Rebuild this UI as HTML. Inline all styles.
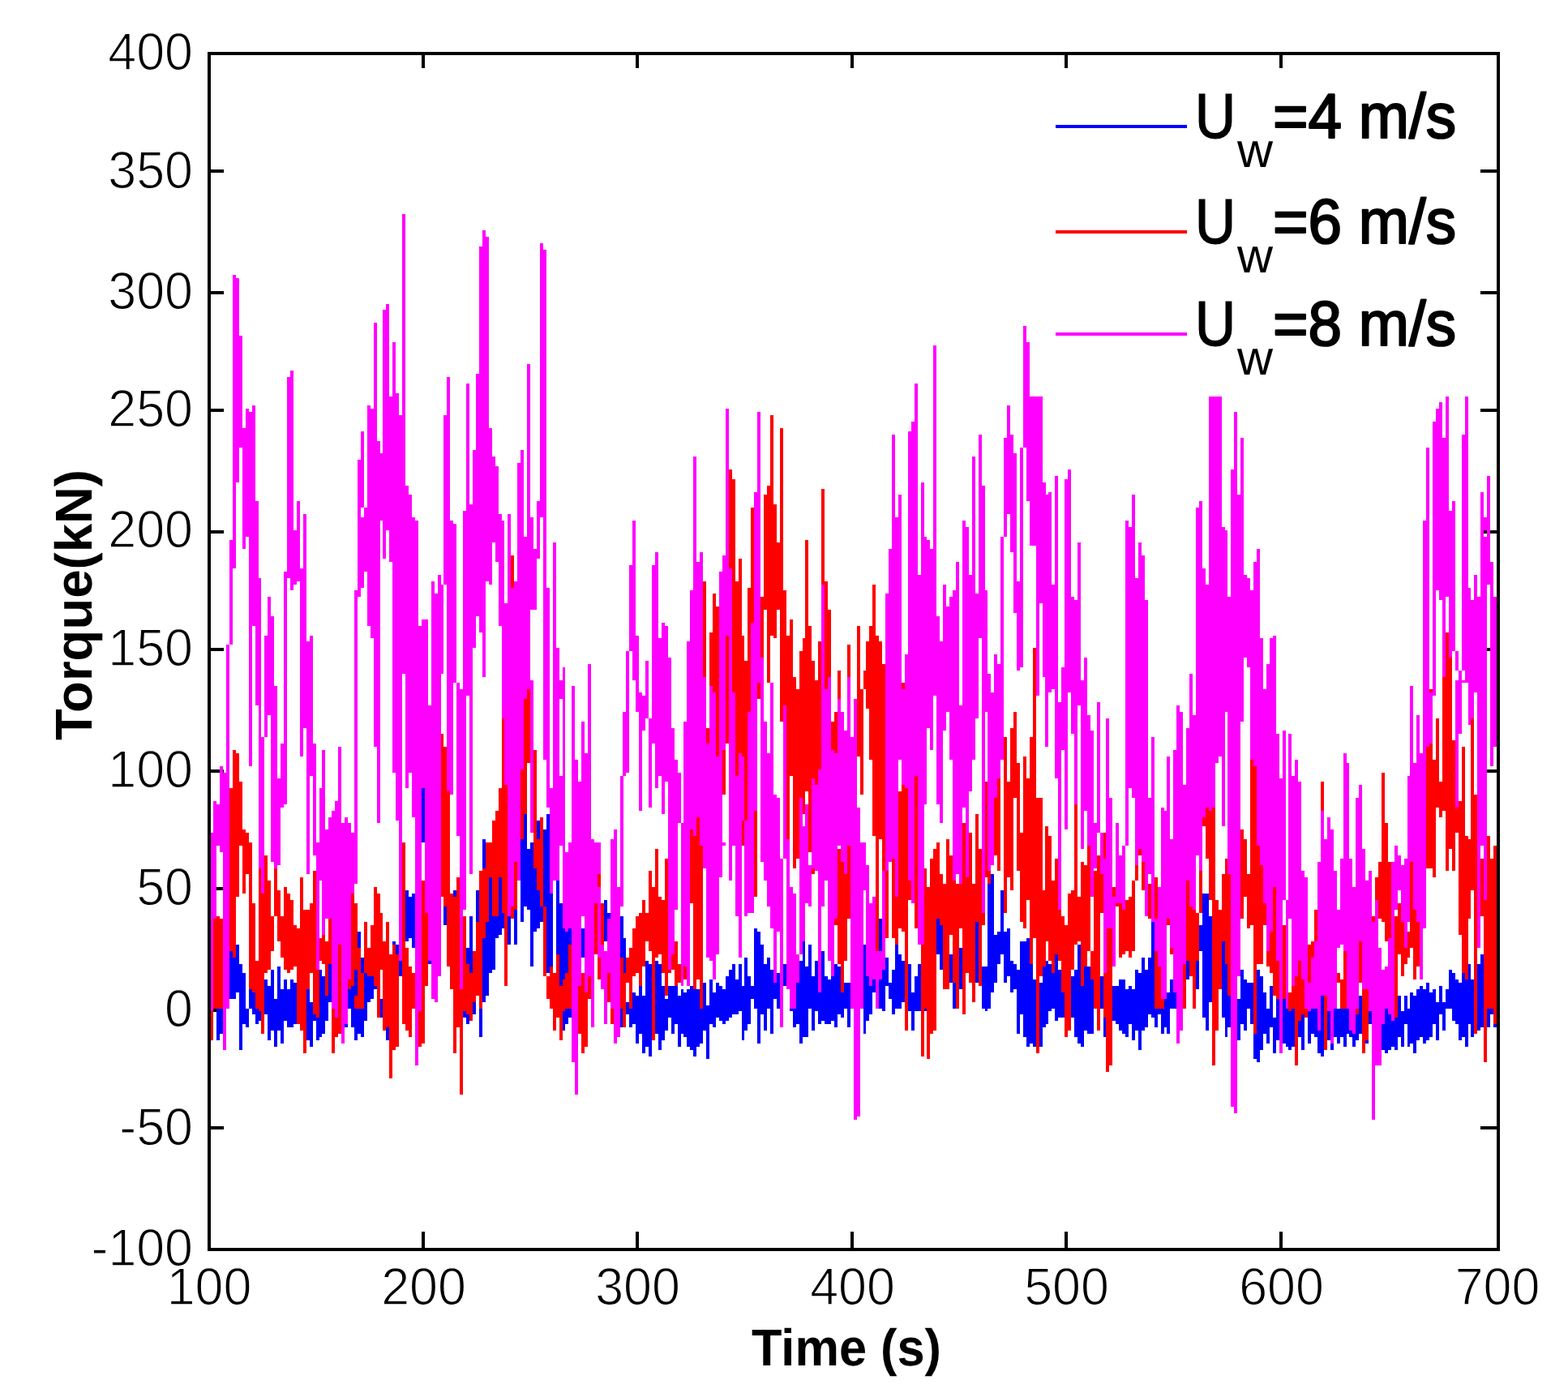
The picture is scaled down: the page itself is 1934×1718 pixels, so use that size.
<!DOCTYPE html>
<html lang="en"><head><meta charset="utf-8"><title>Torque vs Time</title>
<style>html,body{margin:0;padding:0;background:#fff;}body{width:1934px;height:1718px;overflow:hidden;}svg{display:block;}</style>
</head><body>
<svg xmlns="http://www.w3.org/2000/svg" width="1934" height="1718" viewBox="0 0 1934 1718" shape-rendering="crispEdges">
<rect x="0" y="0" width="1934" height="1718" fill="#fff"/>
<g fill="#000">
<rect x="520" y="1519.0" width="4" height="20"/>
<rect x="520" y="68.0" width="4" height="16"/>
<rect x="784" y="1519.0" width="4" height="20"/>
<rect x="784" y="68.0" width="4" height="16"/>
<rect x="1049" y="1519.0" width="4" height="20"/>
<rect x="1049" y="68.0" width="4" height="16"/>
<rect x="1313" y="1519.0" width="4" height="20"/>
<rect x="1313" y="68.0" width="4" height="16"/>
<rect x="1578" y="1519.0" width="4" height="20"/>
<rect x="1578" y="68.0" width="4" height="16"/>
<rect x="259.5" y="1389.0" width="16" height="4"/>
<rect x="1826.0" y="1389.0" width="20" height="4"/>
<rect x="259.5" y="1243.5" width="16" height="4"/>
<rect x="1826.0" y="1243.5" width="20" height="4"/>
<rect x="259.5" y="1094.1" width="16" height="4"/>
<rect x="1826.0" y="1094.1" width="20" height="4"/>
<rect x="259.5" y="948.6" width="16" height="4"/>
<rect x="1826.0" y="948.6" width="20" height="4"/>
<rect x="259.5" y="799.2" width="16" height="4"/>
<rect x="1826.0" y="799.2" width="20" height="4"/>
<rect x="259.5" y="653.7" width="16" height="4"/>
<rect x="1826.0" y="653.7" width="20" height="4"/>
<rect x="259.5" y="504.3" width="16" height="4"/>
<rect x="1826.0" y="504.3" width="20" height="4"/>
<rect x="259.5" y="358.8" width="16" height="4"/>
<rect x="1826.0" y="358.8" width="20" height="4"/>
<rect x="259.5" y="209.4" width="16" height="4"/>
<rect x="1826.0" y="209.4" width="20" height="4"/>
</g>
<path fill="#0000ff" d="M267.22 1239.6h3.96V1282.8h-3.96zM271.17 1243.5h3.96V1275h-3.96zM283.01 1172.7h3.96V1231.7h-3.96zM286.95 1180.6h3.96V1231.7h-3.96zM290.9 1164.9h3.96V1223.8h-3.96zM294.85 1188.5h3.96V1294.6h-3.96zM298.79 1200.2h3.96V1263.2h-3.96zM302.74 1243.5h3.96V1267.1h-3.96zM306.69 1219.9h3.96V1243.5h-3.96zM310.64 1223.8h3.96V1251.4h-3.96zM314.58 1239.6h3.96V1263.2h-3.96zM318.53 1247.4h3.96V1259.2h-3.96zM326.42 1208.1h3.96V1251.4h-3.96zM330.37 1216h3.96V1282.8h-3.96zM334.32 1196.3h3.96V1271h-3.96zM338.26 1231.7h3.96V1290.7h-3.96zM342.21 1192.4h3.96V1271h-3.96zM346.16 1219.9h3.96V1286.8h-3.96zM350.11 1208.1h3.96V1259.2h-3.96zM354.05 1219.9h3.96V1267.1h-3.96zM358 1208.1h3.96V1267.1h-3.96zM361.95 1212h3.96V1263.2h-3.96zM377.74 1219.9h3.96V1282.8h-3.96zM381.68 1235.6h3.96V1290.7h-3.96zM385.63 1251.4h3.96V1259.2h-3.96zM389.58 1255.3h3.96V1282.8h-3.96zM393.52 1196.3h3.96V1278.9h-3.96zM397.47 1204.2h3.96V1275h-3.96zM401.42 1227.8h3.96V1259.2h-3.96zM405.36 1188.5h3.96V1235.6h-3.96zM425.1 1263.2h3.96V1267.15h-3.96zM429.05 1219.9h3.96V1243.5h-3.96zM432.99 1216h3.96V1267.1h-3.96zM436.94 1196.3h3.96V1227.8h-3.96zM436.94 1239.6h3.96V1282.8h-3.96zM440.89 1149.1h3.96V1168.8h-3.96zM440.89 1239.6h3.96V1275h-3.96zM444.83 1180.6h3.96V1200.2h-3.96zM444.83 1239.6h3.96V1278.9h-3.96zM448.78 1200.2h3.96V1259.2h-3.96zM452.73 1204.2h3.96V1235.6h-3.96zM456.68 1204.2h3.96V1231.7h-3.96zM460.62 1216h3.96V1219.9h-3.96zM468.52 1231.7h3.96V1255.3h-3.96zM476.41 1267.1h3.96V1282.8h-3.96zM484.3 1160.9h3.96V1164.9h-3.96zM488.25 1164.9h3.96V1176.7h-3.96zM492.2 1184.5h3.96V1204.2h-3.96zM500.09 1098h3.96V1160.9h-3.96zM504.04 1105.9h3.96V1157h-3.96zM507.99 1101.9h3.96V1168.8h-3.96zM519.83 972.2h3.96V1039h-3.96zM527.72 1184.5h3.96V1188.5h-3.96zM547.46 1117.7h3.96V1141.3h-3.96zM559.3 1098h3.96V1105.9h-3.96zM571.14 1247.4h3.96V1255.3h-3.96zM575.09 1168.8h3.96V1188.5h-3.96zM575.09 1251.4h3.96V1263.2h-3.96zM579.03 1129.5h3.96V1200.2h-3.96zM582.98 1235.6h3.96V1251.4h-3.96zM586.93 1098h3.96V1137.3h-3.96zM590.87 1239.6h3.96V1278.9h-3.96zM594.82 1035.1h3.96V1070.5h-3.96zM594.82 1157h3.96V1235.6h-3.96zM598.77 1137.3h3.96V1227.8h-3.96zM602.71 1082.3h3.96V1200.2h-3.96zM606.66 1129.5h3.96V1196.3h-3.96zM610.61 1129.5h3.96V1157h-3.96zM614.55 1082.3h3.96V1153.1h-3.96zM618.5 1125.5h3.96V1145.2h-3.96zM626.4 1129.5h3.96V1164.9h-3.96zM634.29 1121.6h3.96V1164.9h-3.96zM642.18 1035.1h3.96V1137.3h-3.96zM646.13 1003.6h3.96V1117.7h-3.96zM650.08 1046.9h3.96V1121.6h-3.96zM654.02 1039h3.96V1192.4h-3.96zM657.97 1070.5h3.96V1149.1h-3.96zM661.92 1011.5h3.96V1035.1h-3.96zM661.92 1098h3.96V1145.2h-3.96zM665.87 1117.7h3.96V1137.3h-3.96zM669.81 1023.3h3.96V1117.7h-3.96zM673.76 1003.6h3.96V1200.2h-3.96zM677.71 1101.9h3.96V1192.4h-3.96zM685.6 1086.2h3.96V1176.7h-3.96zM689.55 1113.7h3.96V1216h-3.96zM693.5 1145.2h3.96V1208.1h-3.96zM693.5 1247.4h3.96V1271h-3.96zM697.44 1149.1h3.96V1200.2h-3.96zM697.44 1239.6h3.96V1263.2h-3.96zM701.39 1145.2h3.96V1164.9h-3.96zM701.39 1239.6h3.96V1255.3h-3.96zM717.18 1145.2h3.96V1180.6h-3.96zM744.81 1109.8h3.96V1160.9h-3.96zM748.75 1125.5h3.96V1133.4h-3.96zM764.54 1129.5h3.96V1180.6h-3.96zM764.54 1243.5h3.96V1267.1h-3.96zM768.49 1157h3.96V1200.2h-3.96zM772.43 1235.6h3.96V1251.4h-3.96zM776.38 1243.5h3.96V1267.1h-3.96zM780.33 1223.8h3.96V1263.2h-3.96zM784.28 1227.8h3.96V1286.8h-3.96zM788.22 1216h3.96V1275h-3.96zM792.17 1227.8h3.96V1298.5h-3.96zM796.12 1184.5h3.96V1290.7h-3.96zM800.06 1188.5h3.96V1302.5h-3.96zM807.96 1184.5h3.96V1275h-3.96zM811.9 1188.5h3.96V1294.6h-3.96zM815.85 1216h3.96V1282.8h-3.96zM819.8 1231.7h3.96V1271h-3.96zM823.75 1216h3.96V1255.3h-3.96zM827.69 1216h3.96V1275h-3.96zM831.64 1216h3.96V1263.2h-3.96zM835.59 1227.8h3.96V1290.7h-3.96zM839.53 1219.9h3.96V1275h-3.96zM843.48 1223.8h3.96V1278.9h-3.96zM847.43 1219.9h3.96V1290.7h-3.96zM851.38 1216h3.96V1294.6h-3.96zM855.32 1219.9h3.96V1302.5h-3.96zM859.27 1219.9h3.96V1290.7h-3.96zM863.22 1243.5h3.96V1286.8h-3.96zM867.16 1212h3.96V1271h-3.96zM871.11 1239.6h3.96V1306.4h-3.96zM875.06 1208.1h3.96V1263.2h-3.96zM879 1223.8h3.96V1267.1h-3.96zM882.95 1212h3.96V1255.3h-3.96zM886.9 1216h3.96V1259.2h-3.96zM890.85 1219.9h3.96V1263.2h-3.96zM894.79 1204.2h3.96V1259.2h-3.96zM898.74 1196.3h3.96V1255.3h-3.96zM902.69 1188.5h3.96V1251.4h-3.96zM906.63 1208.1h3.96V1251.4h-3.96zM910.58 1188.5h3.96V1247.4h-3.96zM914.53 1216h3.96V1282.8h-3.96zM918.47 1180.6h3.96V1271h-3.96zM922.42 1204.2h3.96V1263.2h-3.96zM926.37 1216h3.96V1231.7h-3.96zM930.31 1145.2h3.96V1243.5h-3.96zM934.26 1149.1h3.96V1286.8h-3.96zM938.21 1164.9h3.96V1251.4h-3.96zM942.16 1188.5h3.96V1271h-3.96zM946.1 1180.6h3.96V1243.5h-3.96zM950.05 1196.3h3.96V1275h-3.96zM954 1212h3.96V1231.7h-3.96zM957.94 1200.2h3.96V1243.5h-3.96zM965.84 1188.5h3.96V1216h-3.96zM973.73 1243.5h3.96V1247.4h-3.96zM977.68 1243.5h3.96V1267.1h-3.96zM981.63 1212h3.96V1263.2h-3.96zM985.57 1184.5h3.96V1286.8h-3.96zM989.52 1160.9h3.96V1278.9h-3.96zM993.47 1192.4h3.96V1278.9h-3.96zM997.41 1164.9h3.96V1243.5h-3.96zM1001.36 1204.2h3.96V1271h-3.96zM1005.31 1184.5h3.96V1247.4h-3.96zM1009.25 1223.8h3.96V1263.2h-3.96zM1013.2 1172.7h3.96V1259.2h-3.96zM1017.15 1204.2h3.96V1263.2h-3.96zM1021.1 1208.1h3.96V1263.2h-3.96zM1025.04 1204.2h3.96V1259.2h-3.96zM1028.99 1188.5h3.96V1267.1h-3.96zM1032.94 1192.4h3.96V1251.4h-3.96zM1036.88 1223.8h3.96V1255.3h-3.96zM1040.83 1212h3.96V1243.5h-3.96zM1044.78 1212h3.96V1267.1h-3.96zM1064.51 1164.9h3.96V1275h-3.96zM1068.46 1204.2h3.96V1259.2h-3.96zM1072.41 1216h3.96V1251.4h-3.96zM1076.35 1208.1h3.96V1223.8h-3.96zM1080.3 1239.6h3.96V1243.5h-3.96zM1084.25 1133.4h3.96V1172.7h-3.96zM1084.25 1208.1h3.96V1243.5h-3.96zM1088.19 1196.3h3.96V1247.4h-3.96zM1092.14 1180.6h3.96V1216h-3.96zM1096.09 1212h3.96V1231.7h-3.96zM1100.04 1196.3h3.96V1251.4h-3.96zM1103.98 1164.9h3.96V1243.5h-3.96zM1107.93 1176.7h3.96V1243.5h-3.96zM1111.88 1184.5h3.96V1235.6h-3.96zM1119.77 1188.5h3.96V1247.4h-3.96zM1123.72 1223.8h3.96V1271h-3.96zM1127.66 1204.2h3.96V1247.4h-3.96zM1131.61 1188.5h3.96V1247.4h-3.96zM1139.51 1239.6h3.96V1247.4h-3.96zM1155.29 1133.4h3.96V1176.7h-3.96zM1159.24 1141.3h3.96V1196.3h-3.96zM1171.08 1176.7h3.96V1212h-3.96zM1175.03 1212h3.96V1243.5h-3.96zM1182.92 1168.8h3.96V1219.9h-3.96zM1202.66 1137.3h3.96V1212h-3.96zM1210.55 1192.4h3.96V1243.5h-3.96zM1214.5 1192.4h3.96V1247.4h-3.96zM1218.45 1090.2h3.96V1243.5h-3.96zM1222.39 1078.4h3.96V1223.8h-3.96zM1226.34 1153.1h3.96V1212h-3.96zM1230.29 1149.1h3.96V1188.5h-3.96zM1234.23 1098h3.96V1176.7h-3.96zM1238.18 1149.1h3.96V1212h-3.96zM1242.13 1145.2h3.96V1204.2h-3.96zM1246.08 1184.5h3.96V1223.8h-3.96zM1250.02 1188.5h3.96V1219.9h-3.96zM1253.97 1196.3h3.96V1275h-3.96zM1257.92 1160.9h3.96V1251.4h-3.96zM1261.86 1160.9h3.96V1278.9h-3.96zM1265.81 1157h3.96V1290.7h-3.96zM1269.76 1188.5h3.96V1286.8h-3.96zM1273.7 1208.1h3.96V1290.7h-3.96zM1281.6 1212h3.96V1290.7h-3.96zM1285.55 1192.4h3.96V1267.1h-3.96zM1289.49 1184.5h3.96V1263.2h-3.96zM1293.44 1188.5h3.96V1247.4h-3.96zM1297.39 1200.2h3.96V1243.5h-3.96zM1301.33 1176.7h3.96V1259.2h-3.96zM1305.28 1196.3h3.96V1255.3h-3.96zM1309.23 1223.8h3.96V1255.3h-3.96zM1321.07 1204.2h3.96V1255.3h-3.96zM1325.02 1196.3h3.96V1278.9h-3.96zM1328.96 1164.9h3.96V1286.8h-3.96zM1332.91 1216h3.96V1290.7h-3.96zM1336.86 1192.4h3.96V1271h-3.96zM1340.8 1192.4h3.96V1275h-3.96zM1344.75 1208.1h3.96V1275h-3.96zM1356.59 1204.2h3.96V1243.5h-3.96zM1360.54 1255.3h3.96V1278.9h-3.96zM1372.38 1216h3.96V1259.2h-3.96zM1376.33 1216h3.96V1263.2h-3.96zM1380.27 1208.1h3.96V1271h-3.96zM1384.22 1208.1h3.96V1275h-3.96zM1388.17 1219.9h3.96V1278.9h-3.96zM1392.11 1216h3.96V1263.2h-3.96zM1396.06 1219.9h3.96V1282.8h-3.96zM1400.01 1196.3h3.96V1271h-3.96zM1403.95 1200.2h3.96V1294.6h-3.96zM1407.9 1180.6h3.96V1271h-3.96zM1411.85 1196.3h3.96V1267.1h-3.96zM1415.8 1180.6h3.96V1251.4h-3.96zM1419.74 1137.3h3.96V1255.3h-3.96zM1423.69 1239.6h3.96V1267.1h-3.96zM1427.64 1243.5h3.96V1251.4h-3.96zM1431.58 1239.6h3.96V1275h-3.96zM1435.53 1231.7h3.96V1267.1h-3.96zM1439.48 1223.8h3.96V1275h-3.96zM1443.42 1208.1h3.96V1243.5h-3.96zM1447.37 1223.8h3.96V1243.5h-3.96zM1463.16 1184.5h3.96V1208.1h-3.96zM1475 1184.5h3.96V1219.9h-3.96zM1478.95 1141.3h3.96V1172.7h-3.96zM1482.89 1101.9h3.96V1255.3h-3.96zM1486.84 1101.9h3.96V1271h-3.96zM1490.79 1129.5h3.96V1235.6h-3.96zM1506.58 1160.9h3.96V1255.3h-3.96zM1510.52 1188.5h3.96V1278.9h-3.96zM1514.47 1227.8h3.96V1267.1h-3.96zM1526.31 1231.7h3.96V1282.8h-3.96zM1530.26 1196.3h3.96V1263.2h-3.96zM1534.21 1208.1h3.96V1271h-3.96zM1538.15 1212h3.96V1243.5h-3.96zM1542.1 1212h3.96V1263.2h-3.96zM1546.05 1275h3.96V1306.4h-3.96zM1549.99 1196.3h3.96V1310.3h-3.96zM1553.94 1204.2h3.96V1294.6h-3.96zM1557.89 1223.8h3.96V1275h-3.96zM1561.84 1243.5h3.96V1286.8h-3.96zM1565.78 1216h3.96V1267.1h-3.96zM1569.73 1255.3h3.96V1298.5h-3.96zM1573.68 1231.7h3.96V1282.8h-3.96zM1581.57 1231.7h3.96V1286.8h-3.96zM1585.52 1243.5h3.96V1290.7h-3.96zM1589.46 1247.4h3.96V1294.6h-3.96zM1593.41 1239.6h3.96V1290.7h-3.96zM1601.31 1259.2h3.96V1278.9h-3.96zM1605.25 1251.4h3.96V1294.6h-3.96zM1613.15 1247.4h3.96V1286.8h-3.96zM1617.09 1239.6h3.96V1275h-3.96zM1621.04 1239.6h3.96V1278.9h-3.96zM1624.99 1271h3.96V1298.5h-3.96zM1628.93 1227.8h3.96V1302.5h-3.96zM1636.83 1247.4h3.96V1282.8h-3.96zM1640.78 1286.8h3.96V1294.6h-3.96zM1644.72 1243.5h3.96V1278.9h-3.96zM1648.67 1243.5h3.96V1286.8h-3.96zM1652.62 1243.5h3.96V1278.9h-3.96zM1656.56 1239.6h3.96V1290.7h-3.96zM1660.51 1239.6h3.96V1275h-3.96zM1664.46 1271h3.96V1278.9h-3.96zM1668.4 1275h3.96V1290.7h-3.96zM1672.35 1251.4h3.96V1282.8h-3.96zM1676.3 1227.8h3.96V1275h-3.96zM1684.19 1282.8h3.96V1286.8h-3.96zM1688.14 1247.4h3.96V1263.2h-3.96zM1703.93 1263.2h3.96V1294.6h-3.96zM1707.87 1239.6h3.96V1298.5h-3.96zM1711.82 1251.4h3.96V1294.6h-3.96zM1715.77 1259.2h3.96V1290.7h-3.96zM1719.71 1255.3h3.96V1294.6h-3.96zM1723.66 1227.8h3.96V1278.9h-3.96zM1727.61 1247.4h3.96V1290.7h-3.96zM1731.56 1227.8h3.96V1263.2h-3.96zM1735.5 1243.5h3.96V1290.7h-3.96zM1739.45 1223.8h3.96V1286.8h-3.96zM1743.4 1227.8h3.96V1298.5h-3.96zM1747.34 1219.9h3.96V1282.8h-3.96zM1751.29 1216h3.96V1278.9h-3.96zM1755.24 1219.9h3.96V1286.8h-3.96zM1759.18 1212h3.96V1282.8h-3.96zM1763.13 1223.8h3.96V1278.9h-3.96zM1767.08 1219.9h3.96V1263.2h-3.96zM1771.03 1235.6h3.96V1282.8h-3.96zM1774.97 1216h3.96V1251.4h-3.96zM1778.92 1235.6h3.96V1271h-3.96zM1782.87 1219.9h3.96V1243.5h-3.96zM1786.81 1196.3h3.96V1243.5h-3.96zM1790.76 1200.2h3.96V1259.2h-3.96zM1794.71 1208.1h3.96V1263.2h-3.96zM1798.65 1212h3.96V1282.8h-3.96zM1802.6 1200.2h3.96V1278.9h-3.96zM1806.55 1208.1h3.96V1290.7h-3.96zM1810.5 1188.5h3.96V1263.2h-3.96zM1814.44 1208.1h3.96V1278.9h-3.96zM1822.34 1188.5h3.96V1271h-3.96zM1826.28 1176.7h3.96V1267.1h-3.96zM1834.18 1239.6h3.96V1267.1h-3.96zM1838.12 1243.5h3.96V1251.4h-3.96zM1842.07 1263.2h3.96V1267.15h-3.96z"/>
<path fill="#ff0000" d="M259.32 1247.4h3.96V1282.8h-3.96zM263.27 1133.4h3.96V1243.5h-3.96zM267.22 1129.5h3.96V1243.5h-3.96zM271.17 1133.4h3.96V1243.5h-3.96zM283.01 972.2h3.96V1172.7h-3.96zM286.95 925h3.96V1180.6h-3.96zM290.9 928.9h3.96V1105.9h-3.96zM294.85 964.3h3.96V1043h-3.96zM298.79 1023.3h3.96V1101.9h-3.96zM302.74 1027.2h3.96V1078.4h-3.96zM306.69 1039h3.96V1219.9h-3.96zM310.64 1113.7h3.96V1223.8h-3.96zM314.58 1184.5h3.96V1243.5h-3.96zM318.53 1070.5h3.96V1247.4h-3.96zM322.48 1101.9h3.96V1275h-3.96zM326.42 1054.8h3.96V1200.2h-3.96zM330.37 1086.2h3.96V1196.3h-3.96zM334.32 1129.5h3.96V1172.7h-3.96zM338.26 1070.5h3.96V1129.5h-3.96zM342.21 1098h3.96V1160.9h-3.96zM346.16 1129.5h3.96V1180.6h-3.96zM350.11 1094.1h3.96V1196.3h-3.96zM354.05 1101.9h3.96V1200.2h-3.96zM358 1109.8h3.96V1196.3h-3.96zM361.95 1141.3h3.96V1192.4h-3.96zM365.89 1145.2h3.96V1263.2h-3.96zM369.84 1082.3h3.96V1271h-3.96zM373.79 1121.6h3.96V1298.5h-3.96zM377.74 1121.6h3.96V1219.9h-3.96zM381.68 1113.7h3.96V1200.2h-3.96zM385.63 1074.4h3.96V1251.4h-3.96zM389.58 1196.3h3.96V1255.3h-3.96zM393.52 1157h3.96V1184.5h-3.96zM397.47 1153.1h3.96V1188.5h-3.96zM401.42 1160.9h3.96V1227.8h-3.96zM405.36 1133.4h3.96V1188.5h-3.96zM409.31 1239.6h3.96V1298.5h-3.96zM413.26 1255.3h3.96V1278.9h-3.96zM417.2 1164.9h3.96V1275h-3.96zM429.05 1208.1h3.96V1219.9h-3.96zM432.99 1101.9h3.96V1216h-3.96zM436.94 1113.7h3.96V1196.3h-3.96zM436.94 1227.8h3.96V1243.5h-3.96zM440.89 1168.8h3.96V1243.5h-3.96zM444.83 1200.2h3.96V1243.5h-3.96zM448.78 1137.3h3.96V1200.2h-3.96zM452.73 1168.8h3.96V1204.2h-3.96zM456.68 1141.3h3.96V1204.2h-3.96zM460.62 1094.1h3.96V1216h-3.96zM464.57 1101.9h3.96V1255.3h-3.96zM468.52 1125.5h3.96V1196.3h-3.96zM472.46 1160.9h3.96V1271h-3.96zM476.41 1137.3h3.96V1267.1h-3.96zM480.36 1176.7h3.96V1330h-3.96zM484.3 1164.9h3.96V1294.6h-3.96zM488.25 1176.7h3.96V1290.7h-3.96zM496.14 1039h3.96V1263.2h-3.96zM500.09 1168.8h3.96V1271h-3.96zM504.04 1192.4h3.96V1278.9h-3.96zM507.99 1200.2h3.96V1243.5h-3.96zM515.88 1247.4h3.96V1290.7h-3.96zM519.83 1086.2h3.96V1286.8h-3.96zM523.77 1125.5h3.96V1216h-3.96zM543.51 905.3h3.96V1105.9h-3.96zM547.46 921.1h3.96V1117.7h-3.96zM551.4 976.1h3.96V1192.4h-3.96zM555.35 1101.9h3.96V1219.9h-3.96zM559.3 1105.9h3.96V1298.5h-3.96zM563.24 1082.3h3.96V1267.1h-3.96zM567.19 1219.9h3.96V1349.7h-3.96zM571.14 1129.5h3.96V1247.4h-3.96zM575.09 1188.5h3.96V1251.4h-3.96zM579.03 1200.2h3.96V1259.2h-3.96zM582.98 1172.7h3.96V1235.6h-3.96zM586.93 1137.3h3.96V1227.8h-3.96zM590.87 1074.4h3.96V1243.5h-3.96zM594.82 1070.5h3.96V1157h-3.96zM598.77 1039h3.96V1137.3h-3.96zM602.71 1039h3.96V1082.3h-3.96zM606.66 1011.5h3.96V1129.5h-3.96zM610.61 999.7h3.96V1129.5h-3.96zM614.55 972.2h3.96V1082.3h-3.96zM618.5 885.7h3.96V1125.5h-3.96zM622.45 968.3h3.96V1216h-3.96zM630.34 685.2h3.96V724.5h-3.96zM630.34 1117.7h3.96V1133.4h-3.96zM634.29 1062.6h3.96V1121.6h-3.96zM642.18 948.6h3.96V1035.1h-3.96zM646.13 862.1h3.96V1003.6h-3.96zM650.08 850.3h3.96V940.7h-3.96zM657.97 925h3.96V1070.5h-3.96zM661.92 1035.1h3.96V1098h-3.96zM665.87 1007.6h3.96V1117.7h-3.96zM669.81 1117.7h3.96V1204.2h-3.96zM673.76 1204.2h3.96V1231.7h-3.96zM677.71 1192.4h3.96V1243.5h-3.96zM681.65 1200.2h3.96V1271h-3.96zM685.6 1176.7h3.96V1255.3h-3.96zM689.55 1216h3.96V1282.8h-3.96zM693.5 1208.1h3.96V1247.4h-3.96zM697.44 1200.2h3.96V1243.5h-3.96zM701.39 1164.9h3.96V1243.5h-3.96zM709.28 1216h3.96V1243.5h-3.96zM713.23 1216h3.96V1275h-3.96zM717.18 1200.2h3.96V1298.5h-3.96zM721.12 1223.8h3.96V1290.7h-3.96zM725.07 1204.2h3.96V1231.7h-3.96zM732.97 1113.7h3.96V1176.7h-3.96zM736.91 1078.4h3.96V1094.1h-3.96zM736.91 1180.6h3.96V1208.1h-3.96zM740.86 1113.7h3.96V1164.9h-3.96zM748.75 1200.2h3.96V1235.6h-3.96zM752.7 1239.6h3.96V1263.2h-3.96zM764.54 1180.6h3.96V1243.5h-3.96zM768.49 1200.2h3.96V1267.1h-3.96zM772.43 1180.6h3.96V1212h-3.96zM776.38 1168.8h3.96V1243.5h-3.96zM780.33 1145.2h3.96V1204.2h-3.96zM784.28 1129.5h3.96V1200.2h-3.96zM788.22 1125.5h3.96V1216h-3.96zM792.17 1109.8h3.96V1192.4h-3.96zM796.12 1125.5h3.96V1160.9h-3.96zM800.06 1074.4h3.96V1172.7h-3.96zM804.01 1094.1h3.96V1282.8h-3.96zM807.96 1046.9h3.96V1180.6h-3.96zM811.9 1105.9h3.96V1176.7h-3.96zM815.85 1109.8h3.96V1200.2h-3.96zM819.8 1058.7h3.96V1227.8h-3.96zM823.75 1196.3h3.96V1200.2h-3.96zM827.69 1176.7h3.96V1196.3h-3.96zM831.64 1160.9h3.96V1216h-3.96zM835.59 1188.5h3.96V1212h-3.96zM843.48 1192.4h3.96V1208.1h-3.96zM851.38 1023.3h3.96V1113.7h-3.96zM855.32 1031.2h3.96V1219.9h-3.96zM859.27 1007.6h3.96V1208.1h-3.96zM863.22 1039h3.96V1243.5h-3.96zM867.16 716.6h3.96V834.6h-3.96zM871.11 897.5h3.96V917.1h-3.96zM875.06 779.5h3.96V846.4h-3.96zM879 732.3h3.96V854.2h-3.96zM882.95 748.1h3.96V932.9h-3.96zM890.85 925h3.96V980.1h-3.96zM894.79 783.5h3.96V917.1h-3.96zM898.74 579h3.96V700.9h-3.96zM902.69 590.8h3.96V854.2h-3.96zM906.63 716.6h3.96V956.5h-3.96zM910.58 689.1h3.96V928.9h-3.96zM914.53 783.5h3.96V932.9h-3.96zM914.53 1011.5h3.96V1043h-3.96zM918.47 814.9h3.96V1011.5h-3.96zM922.42 724.5h3.96V877.8h-3.96zM926.37 626.2h3.96V767.7h-3.96zM930.31 999.7h3.96V1105.9h-3.96zM934.26 842.4h3.96V862.1h-3.96zM938.21 736.3h3.96V811h-3.96zM942.16 610.4h3.96V752h-3.96zM946.1 598.7h3.96V842.4h-3.96zM950.05 512.1h3.96V783.5h-3.96zM954 622.2h3.96V787.4h-3.96zM957.94 669.4h3.96V752h-3.96zM961.89 527.9h3.96V889.6h-3.96zM965.84 728.4h3.96V870h-3.96zM969.78 783.5h3.96V1035.1h-3.96zM973.73 763.8h3.96V956.5h-3.96zM977.68 834.6h3.96V1070.5h-3.96zM981.63 850.3h3.96V1058.7h-3.96zM985.57 803.1h3.96V984h-3.96zM989.52 787.4h3.96V1003.6h-3.96zM993.47 665.5h3.96V976.1h-3.96zM997.41 771.7h3.96V1050.8h-3.96zM1001.36 814.9h3.96V960.4h-3.96zM1001.36 1070.5h3.96V1078.4h-3.96zM1005.31 838.5h3.96V968.3h-3.96zM1009.25 791.3h3.96V948.6h-3.96zM1013.2 602.6h3.96V720.5h-3.96zM1017.15 716.6h3.96V850.3h-3.96zM1021.1 752h3.96V834.6h-3.96zM1025.04 889.6h3.96V925h-3.96zM1028.99 877.8h3.96V928.9h-3.96zM1028.99 1133.4h3.96V1141.3h-3.96zM1032.94 826.7h3.96V862.1h-3.96zM1032.94 1046.9h3.96V1188.5h-3.96zM1036.88 1062.6h3.96V1223.8h-3.96zM1040.83 1078.4h3.96V1184.5h-3.96zM1044.78 795.3h3.96V834.6h-3.96zM1044.78 1035.1h3.96V1133.4h-3.96zM1056.62 771.7h3.96V932.9h-3.96zM1060.57 850.3h3.96V980.1h-3.96zM1064.51 826.7h3.96V850.3h-3.96zM1068.46 791.3h3.96V873.9h-3.96zM1072.41 771.7h3.96V936.8h-3.96zM1076.35 720.5h3.96V1031.2h-3.96zM1080.3 783.5h3.96V1172.7h-3.96zM1084.25 791.3h3.96V1035.1h-3.96zM1088.19 818.8h3.96V1074.4h-3.96zM1092.14 1074.4h3.96V1157h-3.96zM1100.04 1058.7h3.96V1157h-3.96zM1103.98 1105.9h3.96V1164.9h-3.96zM1107.93 976.1h3.96V1145.2h-3.96zM1111.88 842.4h3.96V850.3h-3.96zM1111.88 968.3h3.96V1149.1h-3.96zM1115.82 972.2h3.96V1271h-3.96zM1119.77 1086.2h3.96V1109.8h-3.96zM1127.66 956.5h3.96V1145.2h-3.96zM1135.56 1164.9h3.96V1302.5h-3.96zM1139.51 1070.5h3.96V1243.5h-3.96zM1143.45 1094.1h3.96V1306.4h-3.96zM1147.4 1058.7h3.96V1275h-3.96zM1151.35 1046.9h3.96V1271h-3.96zM1155.29 1039h3.96V1133.4h-3.96zM1159.24 1078.4h3.96V1141.3h-3.96zM1163.19 1090.2h3.96V1219.9h-3.96zM1167.13 1035.1h3.96V1219.9h-3.96zM1171.08 1054.8h3.96V1153.1h-3.96zM1175.03 1086.2h3.96V1212h-3.96zM1178.98 1090.2h3.96V1243.5h-3.96zM1182.92 1090.2h3.96V1145.2h-3.96zM1186.87 1015.4h3.96V1251.4h-3.96zM1190.82 1082.3h3.96V1200.2h-3.96zM1194.76 1027.2h3.96V1212h-3.96zM1198.71 1090.2h3.96V1235.6h-3.96zM1202.66 1003.6h3.96V1137.3h-3.96zM1206.61 1046.9h3.96V1216h-3.96zM1210.55 1125.5h3.96V1141.3h-3.96zM1214.5 964.3h3.96V1082.3h-3.96zM1218.45 1074.4h3.96V1090.2h-3.96zM1226.34 984h3.96V1054.8h-3.96zM1230.29 960.4h3.96V1074.4h-3.96zM1238.18 909.3h3.96V1125.5h-3.96zM1242.13 964.3h3.96V1082.3h-3.96zM1246.08 897.5h3.96V1098h-3.96zM1250.02 877.8h3.96V984h-3.96zM1253.97 940.7h3.96V1074.4h-3.96zM1257.92 1027.2h3.96V1137.3h-3.96zM1261.86 932.9h3.96V1145.2h-3.96zM1265.81 960.4h3.96V1109.8h-3.96zM1269.76 909.3h3.96V1188.5h-3.96zM1273.7 799.2h3.96V1157h-3.96zM1277.65 984h3.96V1298.5h-3.96zM1281.6 984h3.96V1204.2h-3.96zM1285.55 1098h3.96V1192.4h-3.96zM1289.49 1019.4h3.96V1160.9h-3.96zM1293.44 1031.2h3.96V1184.5h-3.96zM1297.39 1086.2h3.96V1200.2h-3.96zM1301.33 1058.7h3.96V1176.7h-3.96zM1305.28 1121.6h3.96V1184.5h-3.96zM1309.23 1129.5h3.96V1223.8h-3.96zM1313.17 1141.3h3.96V1278.9h-3.96zM1317.12 1101.9h3.96V1271h-3.96zM1321.07 1098h3.96V1196.3h-3.96zM1325.02 991.9h3.96V1164.9h-3.96zM1328.96 1105.9h3.96V1160.9h-3.96zM1332.91 1062.6h3.96V1216h-3.96zM1336.86 1066.6h3.96V1192.4h-3.96zM1340.8 1039h3.96V1172.7h-3.96zM1344.75 1172.7h3.96V1208.1h-3.96zM1348.7 1074.4h3.96V1243.5h-3.96zM1352.64 1054.8h3.96V1271h-3.96zM1356.59 1078.4h3.96V1125.5h-3.96zM1360.54 1027.2h3.96V1058.7h-3.96zM1360.54 1200.2h3.96V1255.3h-3.96zM1364.48 1145.2h3.96V1322.1h-3.96zM1368.43 1145.2h3.96V1314.3h-3.96zM1372.38 1094.1h3.96V1105.9h-3.96zM1376.33 1113.7h3.96V1117.7h-3.96zM1380.27 1113.7h3.96V1180.6h-3.96zM1384.22 1121.6h3.96V1176.7h-3.96zM1388.17 1109.8h3.96V1172.7h-3.96zM1392.11 1105.9h3.96V1180.6h-3.96zM1396.06 1086.2h3.96V1172.7h-3.96zM1400.01 1066.6h3.96V1086.2h-3.96zM1403.95 1046.9h3.96V1054.8h-3.96zM1407.9 1062.6h3.96V1098h-3.96zM1415.8 1090.2h3.96V1133.4h-3.96zM1423.69 1082.3h3.96V1133.4h-3.96zM1423.69 1172.7h3.96V1243.5h-3.96zM1427.64 1192.4h3.96V1243.5h-3.96zM1431.58 1231.7h3.96V1243.5h-3.96zM1439.48 1133.4h3.96V1141.3h-3.96zM1443.42 1168.8h3.96V1176.7h-3.96zM1459.21 1188.5h3.96V1243.5h-3.96zM1463.16 1086.2h3.96V1184.5h-3.96zM1467.11 1117.7h3.96V1204.2h-3.96zM1471.05 1121.6h3.96V1243.5h-3.96zM1475 1125.5h3.96V1184.5h-3.96zM1478.95 1074.4h3.96V1125.5h-3.96zM1482.89 1007.6h3.96V1019.4h-3.96zM1486.84 995.8h3.96V1058.7h-3.96zM1490.79 999.7h3.96V1109.8h-3.96zM1494.74 995.8h3.96V1314.3h-3.96zM1498.68 1109.8h3.96V1271h-3.96zM1502.63 1121.6h3.96V1219.9h-3.96zM1506.58 1078.4h3.96V1160.9h-3.96zM1510.52 1058.7h3.96V1188.5h-3.96zM1514.47 1078.4h3.96V1227.8h-3.96zM1530.26 1023.3h3.96V1133.4h-3.96zM1534.21 1035.1h3.96V1105.9h-3.96zM1538.15 1078.4h3.96V1145.2h-3.96zM1542.1 936.8h3.96V1141.3h-3.96zM1546.05 944.7h3.96V1275h-3.96zM1549.99 1039h3.96V1188.5h-3.96zM1553.94 1066.6h3.96V1188.5h-3.96zM1557.89 1113.7h3.96V1141.3h-3.96zM1561.84 1172.7h3.96V1192.4h-3.96zM1565.78 1149.1h3.96V1200.2h-3.96zM1569.73 1094.1h3.96V1227.8h-3.96zM1573.68 1184.5h3.96V1231.7h-3.96zM1581.57 1141.3h3.96V1231.7h-3.96zM1589.46 1223.8h3.96V1247.4h-3.96zM1593.41 1216h3.96V1243.5h-3.96zM1597.36 1204.2h3.96V1314.3h-3.96zM1601.31 1184.5h3.96V1259.2h-3.96zM1605.25 1208.1h3.96V1251.4h-3.96zM1609.2 1239.6h3.96V1255.3h-3.96zM1613.15 1164.9h3.96V1212h-3.96zM1617.09 1160.9h3.96V1180.6h-3.96zM1621.04 1121.6h3.96V1160.9h-3.96zM1628.93 964.3h3.96V999.7h-3.96zM1632.88 1227.8h3.96V1294.6h-3.96zM1648.67 1200.2h3.96V1212h-3.96zM1652.62 1208.1h3.96V1243.5h-3.96zM1656.56 1172.7h3.96V1243.5h-3.96zM1672.35 1239.6h3.96V1251.4h-3.96zM1676.3 1160.9h3.96V1212h-3.96zM1680.25 1219.9h3.96V1298.5h-3.96zM1684.19 1219.9h3.96V1282.8h-3.96zM1692.09 1129.5h3.96V1137.3h-3.96zM1696.03 1082.3h3.96V1109.8h-3.96zM1699.98 1062.6h3.96V1133.4h-3.96zM1703.93 952.5h3.96V1137.3h-3.96zM1707.87 1015.4h3.96V1160.9h-3.96zM1711.82 1062.6h3.96V1157h-3.96zM1719.71 1129.5h3.96V1255.3h-3.96zM1723.66 1113.7h3.96V1176.7h-3.96zM1727.61 1137.3h3.96V1204.2h-3.96zM1731.56 1168.8h3.96V1188.5h-3.96zM1735.5 1149.1h3.96V1180.6h-3.96zM1739.45 1062.6h3.96V1168.8h-3.96zM1743.4 1121.6h3.96V1208.1h-3.96zM1747.34 1137.3h3.96V1192.4h-3.96zM1759.18 921.1h3.96V1070.5h-3.96zM1763.13 850.3h3.96V854.2h-3.96zM1763.13 917.1h3.96V1070.5h-3.96zM1767.08 936.8h3.96V1082.3h-3.96zM1771.03 885.7h3.96V995.8h-3.96zM1774.97 964.3h3.96V1007.6h-3.96zM1778.92 834.6h3.96V999.7h-3.96zM1782.87 779.5h3.96V1074.4h-3.96zM1786.81 811h3.96V1046.9h-3.96zM1790.76 913.2h3.96V1074.4h-3.96zM1794.71 995.8h3.96V1027.2h-3.96zM1798.65 987.9h3.96V1153.1h-3.96zM1802.6 921.1h3.96V1200.2h-3.96zM1806.55 1031.2h3.96V1208.1h-3.96zM1810.5 1035.1h3.96V1133.4h-3.96zM1814.44 885.7h3.96V1098h-3.96zM1818.39 980.1h3.96V1275h-3.96zM1826.28 1058.7h3.96V1129.5h-3.96zM1830.23 1109.8h3.96V1310.3h-3.96zM1834.18 1031.2h3.96V1243.5h-3.96zM1838.12 1058.7h3.96V1243.5h-3.96zM1842.07 1043h3.96V1263.2h-3.96z"/>
<path fill="#ff00ff" d="M259.32 1027.2h3.96V1247.4h-3.96zM263.27 987.9h3.96V1133.4h-3.96zM267.22 991.9h3.96V1043h-3.96zM271.17 944.7h3.96V1050.8h-3.96zM275.11 952.5h3.96V1294.6h-3.96zM279.06 795.3h3.96V1243.5h-3.96zM283.01 665.5h3.96V795.3h-3.96zM286.95 339.1h3.96V700.9h-3.96zM290.9 343.1h3.96V594.7h-3.96zM294.85 413.8h3.96V551.5h-3.96zM298.79 527.9h3.96V677.3h-3.96zM302.74 504.3h3.96V661.6h-3.96zM306.69 508.2h3.96V944.7h-3.96zM310.64 500.4h3.96V771.7h-3.96zM314.58 618.3h3.96V870h-3.96zM318.53 712.7h3.96V1070.5h-3.96zM322.48 909.3h3.96V1101.9h-3.96zM326.42 783.5h3.96V909.3h-3.96zM330.37 736.3h3.96V881.8h-3.96zM334.32 759.9h3.96V1062.6h-3.96zM338.26 846.4h3.96V1070.5h-3.96zM342.21 960.4h3.96V1066.6h-3.96zM346.16 917.1h3.96V995.8h-3.96zM350.11 704.8h3.96V991.9h-3.96zM354.05 465h3.96V712.7h-3.96zM358 457.1h3.96V728.4h-3.96zM361.95 653.7h3.96V720.5h-3.96zM365.89 618.3h3.96V716.6h-3.96zM369.84 700.9h3.96V932.9h-3.96zM373.79 634h3.96V897.5h-3.96zM377.74 791.3h3.96V1078.4h-3.96zM381.68 783.5h3.96V956.5h-3.96zM385.63 917.1h3.96V1054.8h-3.96zM389.58 1039h3.96V1196.3h-3.96zM393.52 972.2h3.96V1086.2h-3.96zM397.47 925h3.96V1153.1h-3.96zM401.42 1023.3h3.96V1133.4h-3.96zM405.36 1007.6h3.96V1133.4h-3.96zM409.31 999.7h3.96V1243.5h-3.96zM413.26 987.9h3.96V1255.3h-3.96zM417.2 921.1h3.96V1164.9h-3.96zM421.15 1015.4h3.96V1286.8h-3.96zM425.1 1007.6h3.96V1263.2h-3.96zM429.05 1015.4h3.96V1208.1h-3.96zM432.99 1027.2h3.96V1101.9h-3.96zM436.94 728.4h3.96V1090.2h-3.96zM440.89 567.2h3.96V736.3h-3.96zM444.83 531.8h3.96V626.2h-3.96zM444.83 638h3.96V724.5h-3.96zM448.78 626.2h3.96V704.8h-3.96zM452.73 500.4h3.96V771.7h-3.96zM456.68 504.3h3.96V787.4h-3.96zM460.62 398.1h3.96V921.1h-3.96zM464.57 543.6h3.96V1015.4h-3.96zM468.52 559.3h3.96V641.9h-3.96zM472.46 382.4h3.96V689.1h-3.96zM476.41 374.5h3.96V653.7h-3.96zM480.36 488.6h3.96V693h-3.96zM484.3 421.7h3.96V952.5h-3.96zM488.25 484.6h3.96V1011.5h-3.96zM492.2 512.1h3.96V1184.5h-3.96zM496.14 264.4h3.96V830.6h-3.96zM500.09 598.7h3.96V972.2h-3.96zM504.04 610.4h3.96V952.5h-3.96zM507.99 638h3.96V1007.6h-3.96zM511.93 641.9h3.96V1314.3h-3.96zM515.88 771.7h3.96V1247.4h-3.96zM519.83 763.8h3.96V972.2h-3.96zM523.77 763.8h3.96V1125.5h-3.96zM527.72 870h3.96V1184.5h-3.96zM531.67 716.6h3.96V1231.7h-3.96zM535.62 732.3h3.96V1235.6h-3.96zM539.56 708.7h3.96V1204.2h-3.96zM543.51 720.5h3.96V830.6h-3.96zM547.46 512.1h3.96V720.5h-3.96zM551.4 465h3.96V976.1h-3.96zM555.35 641.9h3.96V980.1h-3.96zM559.3 645.8h3.96V842.4h-3.96zM563.24 842.4h3.96V1031.2h-3.96zM567.19 850.3h3.96V1219.9h-3.96zM571.14 630.1h3.96V1121.6h-3.96zM575.09 472.8h3.96V858.2h-3.96zM579.03 622.2h3.96V1078.4h-3.96zM582.98 555.4h3.96V799.2h-3.96zM586.93 461h3.96V759.9h-3.96zM590.87 303.8h3.96V779.5h-3.96zM594.82 284.1h3.96V834.6h-3.96zM598.77 292h3.96V716.6h-3.96zM602.71 527.9h3.96V720.5h-3.96zM606.66 563.3h3.96V669.4h-3.96zM610.61 575.1h3.96V693h-3.96zM614.55 634h3.96V771.7h-3.96zM618.5 641.9h3.96V885.7h-3.96zM622.45 744.1h3.96V968.3h-3.96zM626.4 634h3.96V1129.5h-3.96zM630.34 724.5h3.96V1117.7h-3.96zM634.29 716.6h3.96V1062.6h-3.96zM638.24 571.1h3.96V1086.2h-3.96zM642.18 555.4h3.96V948.6h-3.96zM646.13 661.6h3.96V862.1h-3.96zM650.08 449.2h3.96V850.3h-3.96zM654.02 638h3.96V752h-3.96zM654.02 838.5h3.96V1027.2h-3.96zM657.97 677.3h3.96V752h-3.96zM661.92 618.3h3.96V689.1h-3.96zM665.87 299.8h3.96V638h-3.96zM669.81 307.7h3.96V936.8h-3.96zM673.76 724.5h3.96V995.8h-3.96zM677.71 972.2h3.96V1101.9h-3.96zM681.65 669.4h3.96V1086.2h-3.96zM685.6 799.2h3.96V1086.2h-3.96zM689.55 838.5h3.96V862.1h-3.96zM689.55 956.5h3.96V1043h-3.96zM693.5 822.8h3.96V1145.2h-3.96zM697.44 1050.8h3.96V1149.1h-3.96zM701.39 1039h3.96V1145.2h-3.96zM705.34 846.4h3.96V1310.3h-3.96zM709.28 936.8h3.96V1349.7h-3.96zM713.23 964.3h3.96V1216h-3.96zM717.18 889.6h3.96V1129.5h-3.96zM721.12 928.9h3.96V1223.8h-3.96zM725.07 818.8h3.96V1204.2h-3.96zM729.02 1035.1h3.96V1267.1h-3.96zM732.97 1039h3.96V1113.7h-3.96zM736.91 1039h3.96V1078.4h-3.96zM736.91 1094.1h3.96V1180.6h-3.96zM740.86 1164.9h3.96V1219.9h-3.96zM744.81 1172.7h3.96V1263.2h-3.96zM748.75 1133.4h3.96V1200.2h-3.96zM752.7 1035.1h3.96V1243.5h-3.96zM756.65 1023.3h3.96V1286.8h-3.96zM760.59 1094.1h3.96V1278.9h-3.96zM764.54 956.5h3.96V1117.7h-3.96zM768.49 877.8h3.96V956.5h-3.96zM772.43 803.1h3.96V952.5h-3.96zM776.38 697h3.96V803.1h-3.96zM780.33 641.9h3.96V838.5h-3.96zM784.28 783.5h3.96V877.8h-3.96zM788.22 854.2h3.96V999.7h-3.96zM792.17 858.2h3.96V901.4h-3.96zM796.12 814.9h3.96V885.7h-3.96zM800.06 885.7h3.96V995.8h-3.96zM804.01 697h3.96V917.1h-3.96zM807.96 681.2h3.96V972.2h-3.96zM811.9 787.4h3.96V956.5h-3.96zM815.85 767.7h3.96V1003.6h-3.96zM819.8 771.7h3.96V964.3h-3.96zM823.75 811h3.96V1196.3h-3.96zM827.69 897.5h3.96V1176.7h-3.96zM831.64 936.8h3.96V1121.6h-3.96zM835.59 952.5h3.96V1015.4h-3.96zM839.53 1015.4h3.96V1216h-3.96zM843.48 889.6h3.96V1192.4h-3.96zM847.43 791.3h3.96V1216h-3.96zM851.38 728.4h3.96V1023.3h-3.96zM855.32 563.3h3.96V1031.2h-3.96zM859.27 693h3.96V1007.6h-3.96zM863.22 681.2h3.96V1043h-3.96zM867.16 834.6h3.96V1070.5h-3.96zM871.11 917.1h3.96V1180.6h-3.96zM875.06 846.4h3.96V1184.5h-3.96zM879 854.2h3.96V1208.1h-3.96zM882.95 932.9h3.96V1176.7h-3.96zM886.9 704.8h3.96V1082.3h-3.96zM890.85 685.2h3.96V925h-3.96zM890.85 1039h3.96V1043h-3.96zM894.79 504.3h3.96V783.5h-3.96zM898.74 700.9h3.96V1086.2h-3.96zM902.69 854.2h3.96V1043h-3.96zM906.63 956.5h3.96V1129.5h-3.96zM910.58 928.9h3.96V1180.6h-3.96zM914.53 932.9h3.96V1011.5h-3.96zM918.47 1011.5h3.96V1129.5h-3.96zM922.42 877.8h3.96V1125.5h-3.96zM926.37 767.7h3.96V1125.5h-3.96zM930.31 606.5h3.96V999.7h-3.96zM934.26 508.2h3.96V842.4h-3.96zM938.21 811h3.96V1062.6h-3.96zM942.16 889.6h3.96V1086.2h-3.96zM946.1 928.9h3.96V1117.7h-3.96zM950.05 842.4h3.96V1145.2h-3.96zM954 980.1h3.96V1212h-3.96zM957.94 984h3.96V1149.1h-3.96zM961.89 1058.7h3.96V1267.1h-3.96zM965.84 870h3.96V1058.7h-3.96zM969.78 1035.1h3.96V1219.9h-3.96zM973.73 1094.1h3.96V1243.5h-3.96zM977.68 1101.9h3.96V1243.5h-3.96zM981.63 1176.7h3.96V1212h-3.96zM985.57 984h3.96V1176.7h-3.96zM989.52 1019.4h3.96V1160.9h-3.96zM993.47 991.9h3.96V1113.7h-3.96zM997.41 1066.6h3.96V1117.7h-3.96zM1001.36 960.4h3.96V1070.5h-3.96zM1005.31 968.3h3.96V1074.4h-3.96zM1009.25 948.6h3.96V1223.8h-3.96zM1013.2 720.5h3.96V1117.7h-3.96zM1017.15 850.3h3.96V1086.2h-3.96zM1021.1 834.6h3.96V1184.5h-3.96zM1025.04 925h3.96V1204.2h-3.96zM1028.99 928.9h3.96V1133.4h-3.96zM1032.94 862.1h3.96V1043h-3.96zM1036.88 877.8h3.96V1062.6h-3.96zM1040.83 901.4h3.96V1078.4h-3.96zM1044.78 834.6h3.96V1043h-3.96zM1048.72 909.3h3.96V1243.5h-3.96zM1052.67 862.1h3.96V1381.1h-3.96zM1056.62 995.8h3.96V1377.2h-3.96zM1060.57 1039h3.96V1243.5h-3.96zM1064.51 1039h3.96V1098h-3.96zM1068.46 1066.6h3.96V1204.2h-3.96zM1072.41 1113.7h3.96V1216h-3.96zM1076.35 1105.9h3.96V1208.1h-3.96zM1080.3 1172.7h3.96V1243.5h-3.96zM1084.25 1172.7h3.96V1208.1h-3.96zM1088.19 1074.4h3.96V1196.3h-3.96zM1092.14 732.3h3.96V1074.4h-3.96zM1096.09 677.3h3.96V1062.6h-3.96zM1100.04 535.7h3.96V1058.7h-3.96zM1103.98 638h3.96V1105.9h-3.96zM1107.93 610.4h3.96V936.8h-3.96zM1111.88 850.3h3.96V968.3h-3.96zM1115.82 807h3.96V972.2h-3.96zM1119.77 531.8h3.96V1086.2h-3.96zM1123.72 520h3.96V1113.7h-3.96zM1127.66 472.8h3.96V956.5h-3.96zM1131.61 708.7h3.96V1164.9h-3.96zM1135.56 594.7h3.96V1164.9h-3.96zM1139.51 661.6h3.96V991.9h-3.96zM1143.45 665.5h3.96V897.5h-3.96zM1147.4 677.3h3.96V925h-3.96zM1151.35 425.6h3.96V858.2h-3.96zM1155.29 759.9h3.96V991.9h-3.96zM1159.24 791.3h3.96V1015.4h-3.96zM1163.19 720.5h3.96V901.4h-3.96zM1167.13 748.1h3.96V877.8h-3.96zM1171.08 736.3h3.96V936.8h-3.96zM1175.03 728.4h3.96V1086.2h-3.96zM1178.98 693h3.96V1078.4h-3.96zM1182.92 870h3.96V1090.2h-3.96zM1186.87 641.9h3.96V995.8h-3.96zM1190.82 649.8h3.96V1082.3h-3.96zM1194.76 708.7h3.96V976.1h-3.96zM1198.71 563.3h3.96V936.8h-3.96zM1202.66 732.3h3.96V885.7h-3.96zM1206.61 535.7h3.96V787.4h-3.96zM1210.55 598.7h3.96V1125.5h-3.96zM1214.5 728.4h3.96V877.8h-3.96zM1218.45 830.6h3.96V1074.4h-3.96zM1222.39 854.2h3.96V1066.6h-3.96zM1226.34 807h3.96V984h-3.96zM1230.29 818.8h3.96V960.4h-3.96zM1234.23 661.6h3.96V936.8h-3.96zM1238.18 539.7h3.96V661.6h-3.96zM1242.13 500.4h3.96V634h-3.96zM1246.08 535.7h3.96V681.2h-3.96zM1250.02 559.3h3.96V755.9h-3.96zM1253.97 716.6h3.96V826.7h-3.96zM1257.92 551.5h3.96V822.8h-3.96zM1261.86 402.1h3.96V551.5h-3.96zM1265.81 421.7h3.96V618.3h-3.96zM1269.76 488.6h3.96V673.4h-3.96zM1273.7 488.6h3.96V673.4h-3.96zM1277.65 488.6h3.96V858.2h-3.96zM1281.6 488.6h3.96V744.1h-3.96zM1285.55 594.7h3.96V834.6h-3.96zM1289.49 610.4h3.96V921.1h-3.96zM1293.44 606.5h3.96V854.2h-3.96zM1297.39 720.5h3.96V850.3h-3.96zM1301.33 586.9h3.96V960.4h-3.96zM1305.28 866h3.96V1121.6h-3.96zM1309.23 822.8h3.96V925h-3.96zM1313.17 590.8h3.96V1023.3h-3.96zM1317.12 579h3.96V854.2h-3.96zM1321.07 736.3h3.96V905.3h-3.96zM1325.02 740.2h3.96V991.9h-3.96zM1328.96 669.4h3.96V870h-3.96zM1332.91 838.5h3.96V1046.9h-3.96zM1336.86 811h3.96V999.7h-3.96zM1340.8 881.8h3.96V1043h-3.96zM1344.75 901.4h3.96V1105.9h-3.96zM1348.7 1015.4h3.96V1070.5h-3.96zM1352.64 866h3.96V1027.2h-3.96zM1356.59 1027.2h3.96V1078.4h-3.96zM1360.54 1058.7h3.96V1200.2h-3.96zM1364.48 885.7h3.96V1145.2h-3.96zM1368.43 984h3.96V1145.2h-3.96zM1372.38 1105.9h3.96V1192.4h-3.96zM1376.33 1015.4h3.96V1113.7h-3.96zM1380.27 1054.8h3.96V1113.7h-3.96zM1384.22 1043h3.96V1121.6h-3.96zM1388.17 641.9h3.96V1043h-3.96zM1392.11 649.8h3.96V972.2h-3.96zM1396.06 610.4h3.96V984h-3.96zM1400.01 712.7h3.96V1066.6h-3.96zM1403.95 669.4h3.96V1046.9h-3.96zM1407.9 685.2h3.96V1062.6h-3.96zM1411.85 740.2h3.96V1129.5h-3.96zM1415.8 984h3.96V1078.4h-3.96zM1419.74 909.3h3.96V1137.3h-3.96zM1423.69 1133.4h3.96V1172.7h-3.96zM1427.64 1094.1h3.96V1192.4h-3.96zM1431.58 995.8h3.96V1231.7h-3.96zM1435.53 999.7h3.96V1231.7h-3.96zM1439.48 932.9h3.96V1133.4h-3.96zM1443.42 1035.1h3.96V1168.8h-3.96zM1447.37 925h3.96V1223.8h-3.96zM1451.32 870h3.96V1286.8h-3.96zM1455.27 877.8h3.96V1271h-3.96zM1459.21 968.3h3.96V1188.5h-3.96zM1463.16 897.5h3.96V1086.2h-3.96zM1467.11 830.6h3.96V1117.7h-3.96zM1471.05 881.8h3.96V1121.6h-3.96zM1475 626.2h3.96V1054.8h-3.96zM1478.95 618.3h3.96V1074.4h-3.96zM1482.89 700.9h3.96V1007.6h-3.96zM1486.84 720.5h3.96V995.8h-3.96zM1490.79 488.6h3.96V999.7h-3.96zM1494.74 488.6h3.96V995.8h-3.96zM1498.68 488.6h3.96V940.7h-3.96zM1502.63 488.6h3.96V932.9h-3.96zM1506.58 649.8h3.96V1019.4h-3.96zM1510.52 653.7h3.96V877.8h-3.96zM1514.47 736.3h3.96V1078.4h-3.96zM1518.42 579h3.96V1365.4h-3.96zM1522.37 508.2h3.96V1373.3h-3.96zM1526.31 610.4h3.96V1204.2h-3.96zM1530.26 539.7h3.96V889.6h-3.96zM1534.21 708.7h3.96V811h-3.96zM1538.15 712.7h3.96V822.8h-3.96zM1542.1 728.4h3.96V936.8h-3.96zM1546.05 693h3.96V944.7h-3.96zM1549.99 677.3h3.96V1043h-3.96zM1553.94 787.4h3.96V1066.6h-3.96zM1557.89 850.3h3.96V1113.7h-3.96zM1561.84 818.8h3.96V1172.7h-3.96zM1565.78 787.4h3.96V1149.1h-3.96zM1569.73 783.5h3.96V1094.1h-3.96zM1573.68 905.3h3.96V1184.5h-3.96zM1577.62 960.4h3.96V1298.5h-3.96zM1581.57 901.4h3.96V1109.8h-3.96zM1585.52 1109.8h3.96V1243.5h-3.96zM1589.46 905.3h3.96V1133.4h-3.96zM1593.41 956.5h3.96V1216h-3.96zM1597.36 936.8h3.96V1204.2h-3.96zM1601.31 964.3h3.96V1184.5h-3.96zM1605.25 1074.4h3.96V1208.1h-3.96zM1609.2 1082.3h3.96V1243.5h-3.96zM1613.15 1212h3.96V1247.4h-3.96zM1617.09 1180.6h3.96V1243.5h-3.96zM1621.04 1160.9h3.96V1243.5h-3.96zM1624.99 1062.6h3.96V1271h-3.96zM1628.93 999.7h3.96V1227.8h-3.96zM1632.88 1035.1h3.96V1227.8h-3.96zM1636.83 1007.6h3.96V1247.4h-3.96zM1640.78 1023.3h3.96V1286.8h-3.96zM1644.72 1074.4h3.96V1243.5h-3.96zM1648.67 1121.6h3.96V1168.8h-3.96zM1652.62 1058.7h3.96V1164.9h-3.96zM1656.56 928.9h3.96V1172.7h-3.96zM1660.51 940.7h3.96V1243.5h-3.96zM1664.46 1058.7h3.96V1271h-3.96zM1668.4 1094.1h3.96V1275h-3.96zM1672.35 984h3.96V1243.5h-3.96zM1676.3 968.3h3.96V1160.9h-3.96zM1680.25 1046.9h3.96V1219.9h-3.96zM1684.19 1086.2h3.96V1219.9h-3.96zM1688.14 1074.4h3.96V1247.4h-3.96zM1692.09 1137.3h3.96V1381.1h-3.96zM1696.03 1109.8h3.96V1314.3h-3.96zM1699.98 1168.8h3.96V1314.3h-3.96zM1703.93 1196.3h3.96V1263.2h-3.96zM1707.87 1192.4h3.96V1243.5h-3.96zM1711.82 1157h3.96V1251.4h-3.96zM1715.77 1062.6h3.96V1259.2h-3.96zM1719.71 1043h3.96V1121.6h-3.96zM1723.66 1054.8h3.96V1098h-3.96zM1727.61 1066.6h3.96V1137.3h-3.96zM1731.56 1058.7h3.96V1168.8h-3.96zM1735.5 956.5h3.96V1137.3h-3.96zM1739.45 846.4h3.96V1062.6h-3.96zM1743.4 940.7h3.96V1121.6h-3.96zM1747.34 881.8h3.96V1137.3h-3.96zM1751.29 928.9h3.96V1208.1h-3.96zM1755.24 641.9h3.96V1145.2h-3.96zM1759.18 551.5h3.96V921.1h-3.96zM1763.13 854.2h3.96V917.1h-3.96zM1767.08 520h3.96V858.2h-3.96zM1771.03 504.3h3.96V728.4h-3.96zM1774.97 496.4h3.96V740.2h-3.96zM1778.92 539.7h3.96V834.6h-3.96zM1782.87 488.6h3.96V736.3h-3.96zM1786.81 630.1h3.96V811h-3.96zM1790.76 618.3h3.96V803.1h-3.96zM1794.71 803.1h3.96V826.7h-3.96zM1794.71 838.5h3.96V995.8h-3.96zM1798.65 826.7h3.96V905.3h-3.96zM1802.6 535.7h3.96V826.7h-3.96zM1802.6 838.5h3.96V842.447h-3.96zM1806.55 488.6h3.96V842.4h-3.96zM1810.5 724.5h3.96V893.6h-3.96zM1814.44 740.2h3.96V885.7h-3.96zM1818.39 708.7h3.96V854.2h-3.96zM1822.34 736.3h3.96V1168.8h-3.96zM1826.28 606.5h3.96V1043h-3.96zM1830.23 638h3.96V653.7h-3.96zM1830.23 661.6h3.96V1109.8h-3.96zM1834.18 586.9h3.96V720.5h-3.96zM1838.12 693h3.96V944.7h-3.96zM1842.07 736.3h3.96V921.1h-3.96z"/>
<g fill="#000">
<rect x="255.5" y="64.0" width="1594.5" height="4"/>
<rect x="255.5" y="1539.0" width="1594.5" height="4"/>
<rect x="255.5" y="64.0" width="4" height="1479.0"/>
<rect x="1846.0" y="64.0" width="4" height="1479.0"/>
</g>
<g shape-rendering="crispEdges">
<rect x="1301.5" y="154" width="162" height="4" fill="#0000ff"/>
<rect x="1301.5" y="283.5" width="162" height="4" fill="#ff0000"/>
<rect x="1301.5" y="409.5" width="162" height="4" fill="#ff00ff"/>
</g>
<g font-family="'Liberation Sans', Arial, Helvetica, sans-serif" fill="#000" text-rendering="geometricPrecision">
<text x="238" y="1560.5" font-size="65" text-anchor="end" stroke="#fff" stroke-width="1.3" textLength="125.5" lengthAdjust="spacingAndGlyphs">-100</text>
<text x="238" y="1411.5" font-size="65" text-anchor="end" stroke="#fff" stroke-width="1.3" textLength="90.7" lengthAdjust="spacingAndGlyphs">-50</text>
<text x="238" y="1266.0" font-size="65" text-anchor="end" stroke="#fff" stroke-width="1.3" textLength="34.9" lengthAdjust="spacingAndGlyphs">0</text>
<text x="238" y="1116.1" font-size="65" text-anchor="end" stroke="#fff" stroke-width="1.3" textLength="69.8" lengthAdjust="spacingAndGlyphs">50</text>
<text x="238" y="971.2" font-size="65" text-anchor="end" stroke="#fff" stroke-width="1.3" textLength="104.7" lengthAdjust="spacingAndGlyphs">100</text>
<text x="238" y="820.7" font-size="65" text-anchor="end" stroke="#fff" stroke-width="1.3" textLength="104.7" lengthAdjust="spacingAndGlyphs">150</text>
<text x="238" y="675.2" font-size="65" text-anchor="end" stroke="#fff" stroke-width="1.3" textLength="104.7" lengthAdjust="spacingAndGlyphs">200</text>
<text x="238" y="525.8" font-size="65" text-anchor="end" stroke="#fff" stroke-width="1.3" textLength="104.7" lengthAdjust="spacingAndGlyphs">250</text>
<text x="238" y="381.4" font-size="65" text-anchor="end" stroke="#fff" stroke-width="1.3" textLength="104.7" lengthAdjust="spacingAndGlyphs">300</text>
<text x="238" y="231.9" font-size="65" text-anchor="end" stroke="#fff" stroke-width="1.3" textLength="104.7" lengthAdjust="spacingAndGlyphs">350</text>
<text x="238" y="86.2" font-size="65" text-anchor="end" stroke="#fff" stroke-width="1.3" textLength="104.7" lengthAdjust="spacingAndGlyphs">400</text>
<text x="258.0" y="1608.5" font-size="65" text-anchor="middle" stroke="#fff" stroke-width="1.3" textLength="104.7" lengthAdjust="spacingAndGlyphs">100</text>
<text x="522.5" y="1608.5" font-size="65" text-anchor="middle" stroke="#fff" stroke-width="1.3" textLength="104.7" lengthAdjust="spacingAndGlyphs">200</text>
<text x="786.5" y="1608.5" font-size="65" text-anchor="middle" stroke="#fff" stroke-width="1.3" textLength="104.7" lengthAdjust="spacingAndGlyphs">300</text>
<text x="1051.5" y="1608.5" font-size="65" text-anchor="middle" stroke="#fff" stroke-width="1.3" textLength="104.7" lengthAdjust="spacingAndGlyphs">400</text>
<text x="1315.5" y="1608.5" font-size="65" text-anchor="middle" stroke="#fff" stroke-width="1.3" textLength="104.7" lengthAdjust="spacingAndGlyphs">500</text>
<text x="1580.5" y="1608.5" font-size="65" text-anchor="middle" stroke="#fff" stroke-width="1.3" textLength="104.7" lengthAdjust="spacingAndGlyphs">600</text>
<text x="1847" y="1608.5" font-size="65" text-anchor="middle" stroke="#fff" stroke-width="1.3" textLength="104.7" lengthAdjust="spacingAndGlyphs">700</text>
<text x="1044" y="1684" font-size="64" font-weight="bold" text-anchor="middle" textLength="234" lengthAdjust="spacingAndGlyphs">Time (s)</text>
<text transform="translate(112.5,746) rotate(-90)" font-size="64" font-weight="bold" text-anchor="middle" textLength="334" lengthAdjust="spacingAndGlyphs">Torque(kN)</text>
<text x="1474" y="170" font-size="78" stroke="#000" stroke-width="1.6" textLength="50" lengthAdjust="spacingAndGlyphs">U</text>
<text x="1526" y="206" font-size="60" textLength="44" lengthAdjust="spacingAndGlyphs">w</text>
<text x="1570" y="170" font-size="78" stroke="#000" stroke-width="2.2" stroke-linejoin="round" textLength="226" lengthAdjust="spacingAndGlyphs">=4 m/s</text>
<text x="1474" y="299.5" font-size="78" stroke="#000" stroke-width="1.6" textLength="50" lengthAdjust="spacingAndGlyphs">U</text>
<text x="1526" y="335.5" font-size="60" textLength="44" lengthAdjust="spacingAndGlyphs">w</text>
<text x="1570" y="299.5" font-size="78" stroke="#000" stroke-width="2.2" stroke-linejoin="round" textLength="226" lengthAdjust="spacingAndGlyphs">=6 m/s</text>
<text x="1474" y="425.5" font-size="78" stroke="#000" stroke-width="1.6" textLength="50" lengthAdjust="spacingAndGlyphs">U</text>
<text x="1526" y="461.5" font-size="60" textLength="44" lengthAdjust="spacingAndGlyphs">w</text>
<text x="1570" y="425.5" font-size="78" stroke="#000" stroke-width="2.2" stroke-linejoin="round" textLength="226" lengthAdjust="spacingAndGlyphs">=8 m/s</text>
</g>
</svg>
</body></html>
